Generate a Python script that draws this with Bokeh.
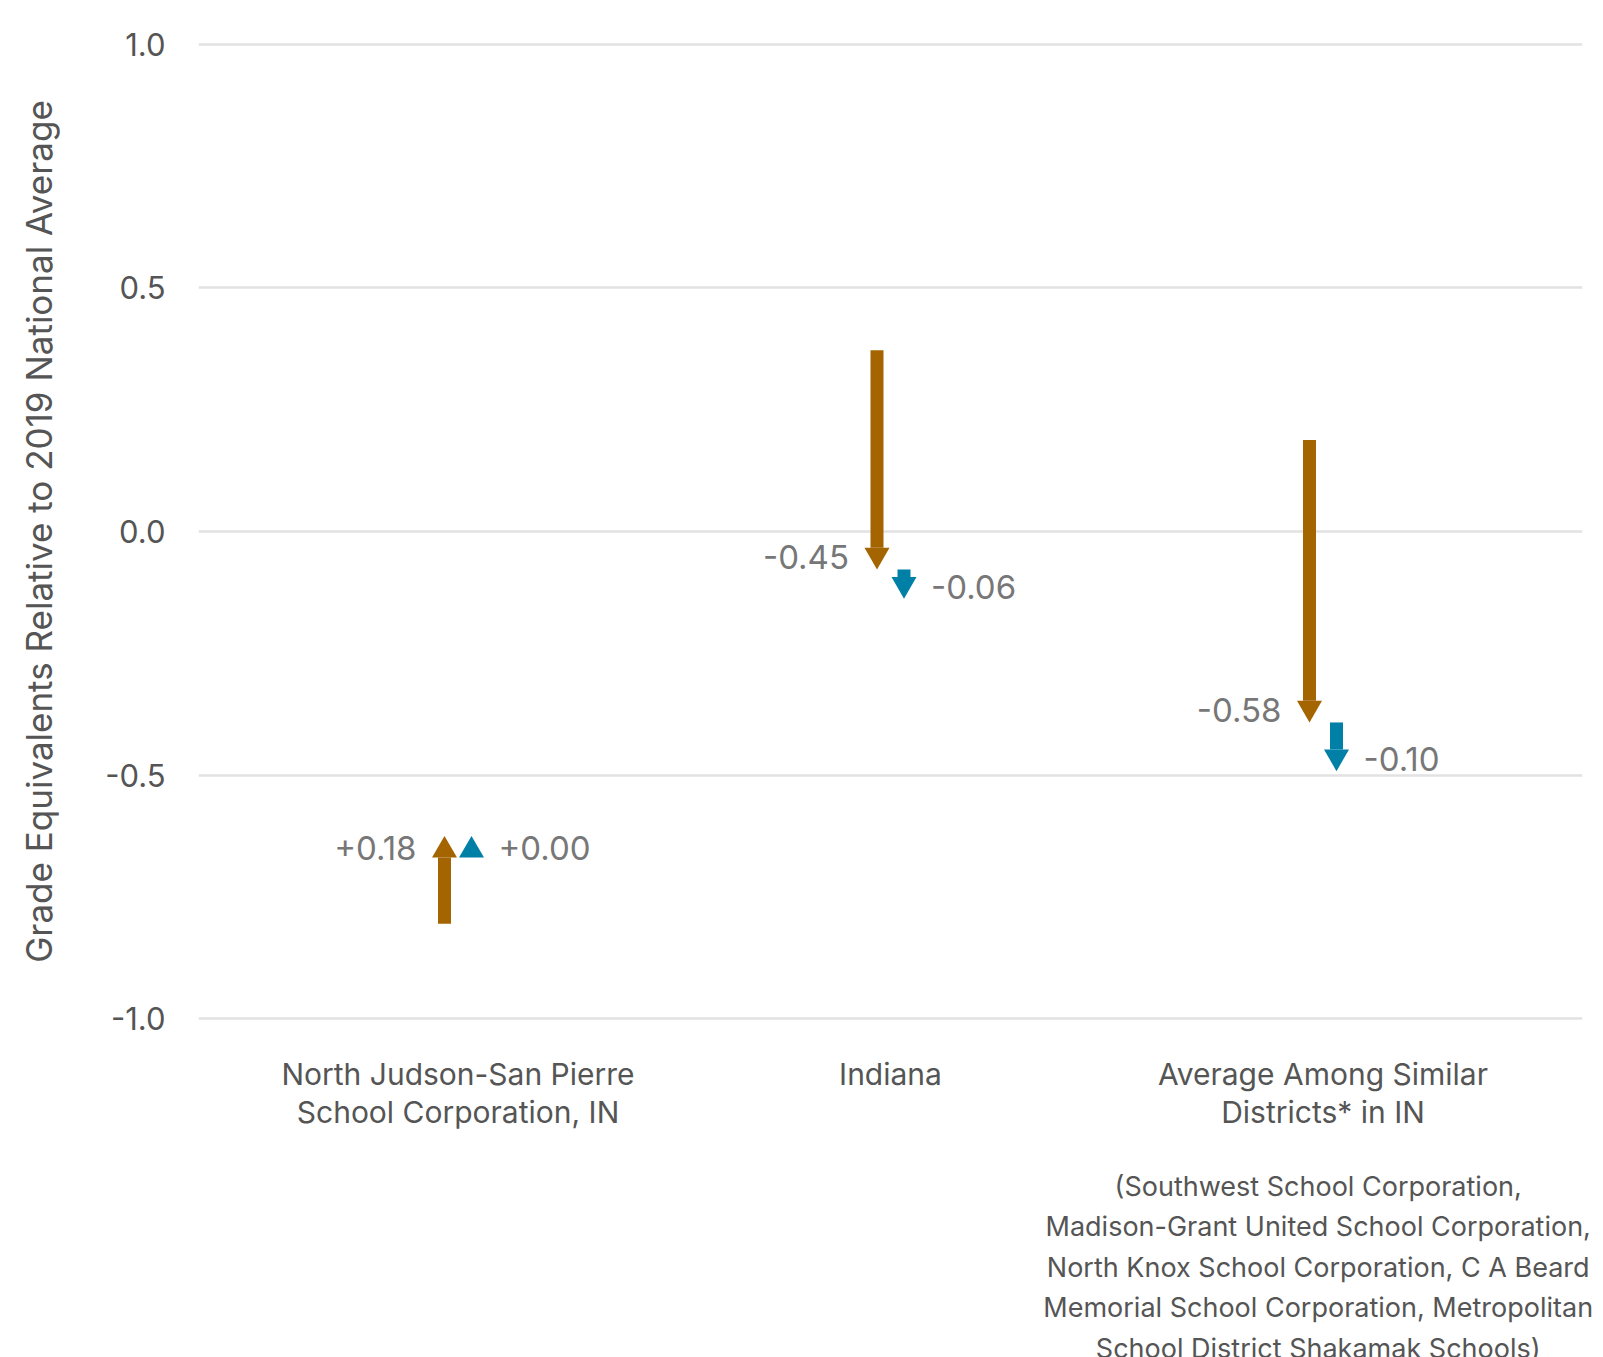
import numpy as np
from bokeh.plotting import figure
from bokeh.models import Range1d, FixedTicker, PrintfTickFormatter, LinearAxis, ColumnDataSource
from bokeh.core.properties import value
from bokeh.embed import file_html
from bokeh.resources import INLINE

# ---- data ----
categories = [
    "North Judson-San Pierre\nSchool Corporation, IN",
    "Indiana",
    "Average Among Similar\nDistricts* in IN",
]
footnote = ("(Southwest School Corporation,\nMadison-Grant United School Corporation,\n"
            "North Knox School Corporation, C A Beard\nMemorial School Corporation, Metropolitan\n"
            "School District Shakamak Schools)")
period1_start = [-0.805, 0.372, 0.188]
period1_change = [0.18, -0.45, -0.58]
period2_change = [0.00, -0.06, -0.10]
y_ticks = [-1.0, -0.5, 0.0, 0.5, 1.0]

BROWN = "#A46400"
BLUE = "#0180A7"
FONT = "Inter"

# ---- geometry ----
PAD = 0.01
FRAME_W = 1384
FRAME_H = int(round(974 * (2 + 2 * PAD) / 2))
X0, X1 = -0.6, 2.6
Y0, Y1 = -1.0 - PAD, 1.0 + PAD
px_x = (X1 - X0) / FRAME_W
px_y = (Y1 - Y0) / FRAME_H
HEAD_W = 25
HEAD_H = HEAD_W * np.sqrt(3) / 2
SHAFT_W = 13
DODGE = 13.5 * px_x

p = figure(width=1595, height=1341, frame_width=FRAME_W, frame_height=FRAME_H,
           x_range=Range1d(X0, X1), y_range=Range1d(Y0, Y1),
           output_backend="svg", toolbar_location=None,
           min_border_left=198, min_border_top=39, min_border_right=13, min_border_bottom=300)
p.outline_line_color = None
p.xgrid.grid_line_color = None
p.ygrid.grid_line_color = "#e2e2e2"
p.ygrid.grid_line_width = 2.5
p.ygrid.ticker = FixedTicker(ticks=y_ticks)

# y axis
ya = p.yaxis[0]
ya.ticker = FixedTicker(ticks=y_ticks)
ya.formatter = PrintfTickFormatter(format="%.1f")
ya.axis_line_color = None
ya.major_tick_line_color = None
ya.minor_tick_line_color = None
ya.major_tick_out = 0
ya.major_tick_in = 0
ya.major_label_standoff = 33
ya.major_label_text_font = FONT
ya.major_label_text_font_size = "31px"
ya.major_label_text_color = "#555555"
ya.axis_label = "Grade Equivalents Relative to 2019 National Average"
ya.axis_label_text_font = FONT
ya.axis_label_text_font_size = "35px"
ya.axis_label_text_font_style = "normal"
ya.axis_label_text_color = "#555555"
ya.axis_label_standoff = 42

# x axis (categories)
xa = p.xaxis[0]
xa.ticker = FixedTicker(ticks=list(range(len(categories))))
xa.major_label_overrides = {i: c for i, c in enumerate(categories)}
xa.axis_line_color = None
xa.major_tick_line_color = None
xa.minor_tick_line_color = None
xa.major_tick_out = 0
xa.major_tick_in = 0
xa.major_label_standoff = 32
xa.major_label_text_font = FONT
xa.major_label_text_font_size = "30px"
xa.major_label_text_color = "#555555"
xa.major_label_text_line_height = 1.08

# footnote axis under third category
fa = LinearAxis(ticker=FixedTicker(ticks=[2]), major_label_overrides={2: footnote})
fa.axis_line_color = None
fa.major_tick_line_color = None
fa.minor_tick_line_color = None
fa.major_tick_out = 0
fa.major_tick_in = 0
fa.major_label_standoff = 36
fa.major_label_text_font = FONT
fa.major_label_text_font_size = "27px"
fa.major_label_text_color = "#555555"
fa.major_label_text_line_height = 1.23
p.add_layout(fa, "below")

# ---- arrows ----
idx = np.arange(len(categories), dtype=float)
s1 = np.array(period1_start)
e1 = s1 + np.array(period1_change)
s2 = e1
e2 = s2 + np.array(period2_change)


def fmt(v):
    return f"{v:+.2f}"


def draw(xc, start, end, changes, color, align, xoff):
    d = np.where(np.array(changes) >= 0, 1.0, -1.0)
    head_base = end - d * HEAD_H * px_y
    lo = np.minimum(start, head_base)
    hi = np.maximum(start, head_base)
    valid = np.abs(end - start) > HEAD_H * px_y
    shaft = ColumnDataSource(dict(x=xc[valid], top=hi[valid], bottom=lo[valid]))
    p.vbar(x="x", top="top", bottom="bottom", width=SHAFT_W * px_x,
           source=shaft, fill_color=color, line_color=None)
    hy = end - d * (2.0 / 3.0) * HEAD_H * px_y
    up = d > 0
    p.scatter(xc[up], hy[up], marker="triangle", size=HEAD_W, fill_color=color, line_color=None)
    p.scatter(xc[~up], hy[~up], marker="inverted_triangle", size=HEAD_W, fill_color=color, line_color=None)
    lab = ColumnDataSource(dict(x=xc, y=end, t=[fmt(c) for c in changes], yo=(d * 12).tolist()))
    p.text(x="x", y="y", text="t", y_offset="yo", x_offset=xoff, source=lab,
           text_font=value(FONT), text_font_size="33px", text_color="#777777",
           text_align=align, text_baseline="middle")


draw(idx - DODGE, s1, e1, period1_change, BROWN, "right", -28)
draw(idx + DODGE, s2, e2, period2_change, BLUE, "left", 27)

open("out.html", "w").write(file_html(p, INLINE))
